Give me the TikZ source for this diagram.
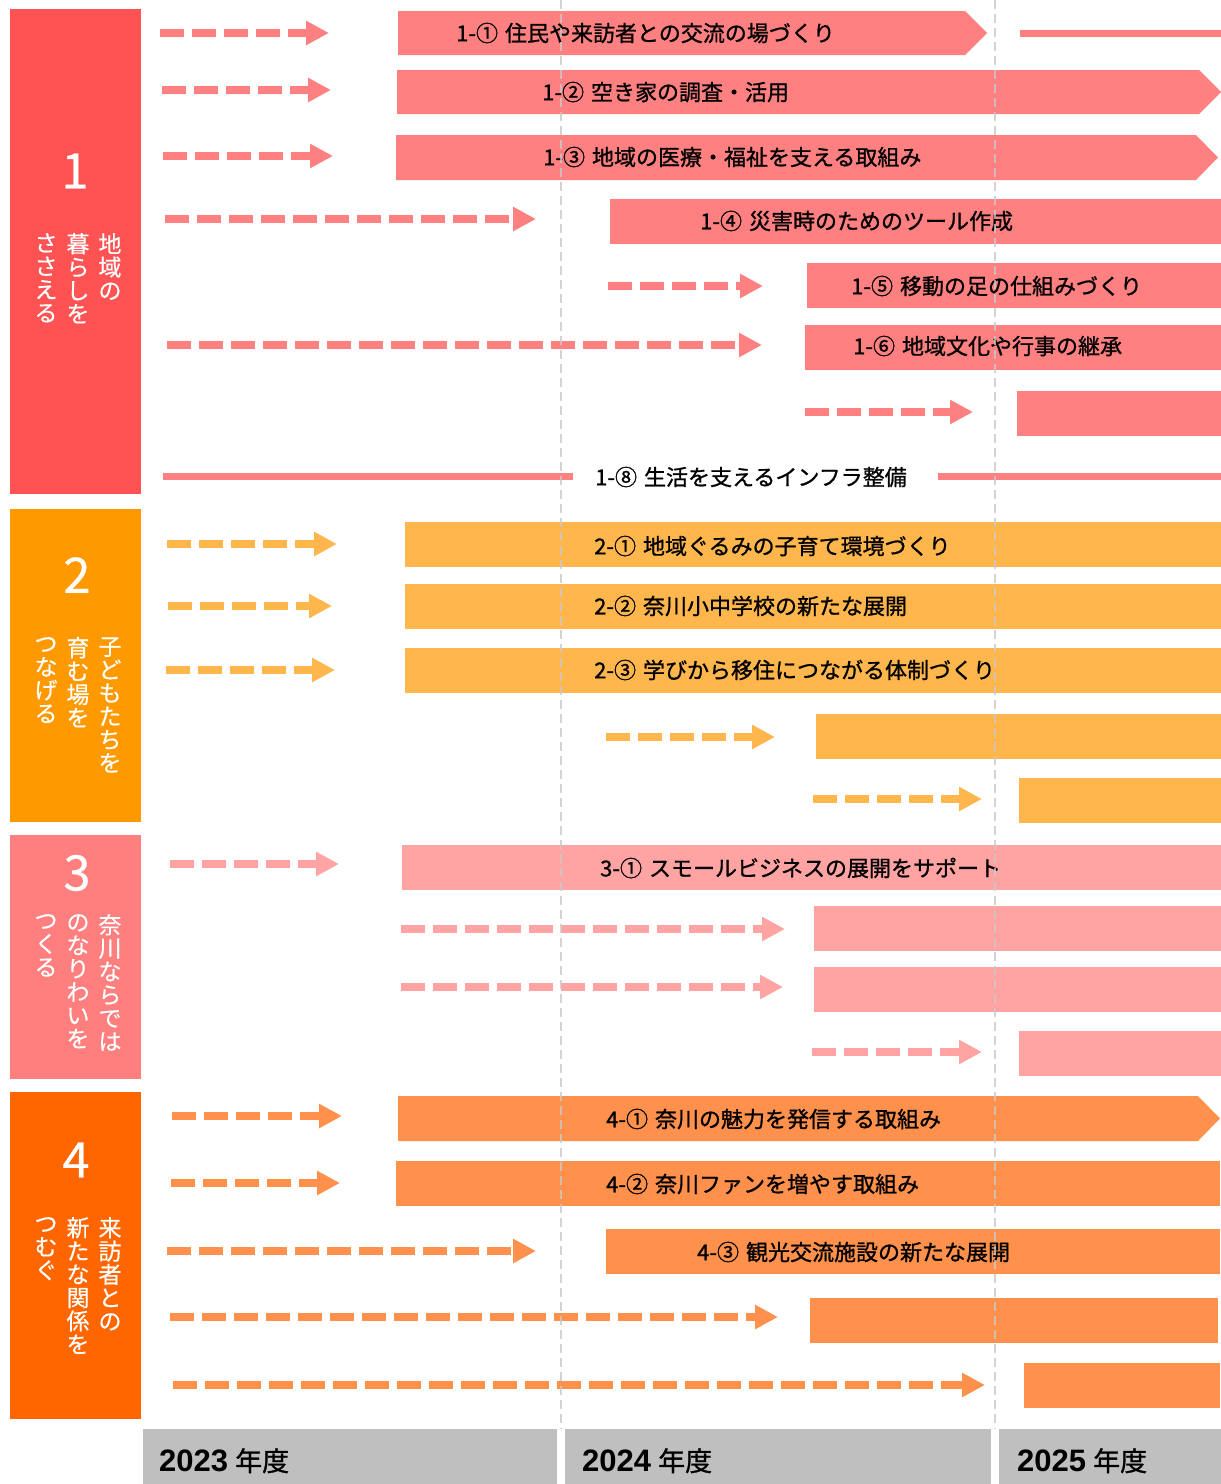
\documentclass[tikz,border=0pt]{standalone}
\usepackage{fontspec}
\setmainfont{Noto Sans CJK JP}
\newfontfamily\jp{Noto Sans CJK JP}
\newfontfamily\jpc[FakeBold=0.4]{Noto Sans CJK JP}
\newfontfamily\jpm[FakeBold=1]{Noto Sans CJK JP}
\newfontfamily\lsans{Liberation Sans}
\usetikzlibrary{arrows.meta}
\definecolor{cA}{HTML}{FF5252}
\definecolor{cAb}{HTML}{FF8080}
\definecolor{cB}{HTML}{FF9900}
\definecolor{cBb}{HTML}{FFB74D}
\definecolor{cC}{HTML}{FF7F7F}
\definecolor{cCb}{HTML}{FFA3A3}
\definecolor{cD}{HTML}{FF6600}
\definecolor{cDb}{HTML}{FF914D}
\definecolor{yr}{HTML}{BFBFBF}
\definecolor{vl}{HTML}{C8C8C8}
\newcommand\darrow[5]{\coordinate (#2s) at (#3,#5); \coordinate (#2e) at (#4,#5); \draw[darr,#1] (#2s) -- (#2e);}
\newcommand\sline[5]{\coordinate (#2s) at (#3,#5); \coordinate (#2e) at (#4,#5); \draw[solidln,#1] (#2s) -- (#2e);}
\newcommand\ptbar[5]{\fill[#1] (#2,#4) -- ({#3-22},#4) -- (#3,{(#4+#5)/2}) -- ({#3-22},#5) -- (#2,#5) -- cycle;}
\begin{document}
\begin{tikzpicture}[x=1pt,y=-1pt,
  darr/.style={line width=7.5pt, dash pattern=on 24pt off 8pt, -{Triangle[length=23pt,width=23pt]}},
  solidln/.style={line width=7pt},
  catbox/.style={anchor=north west, minimum width=131pt, inner sep=0pt, outer sep=0pt},
  catnum/.style={text=white, font=\jpc\fontsize{49}{49}\selectfont, inner sep=0pt},
  catcol/.style={anchor=north, align=center, text=white, inner sep=0pt, font=\jpc\fontsize{23}{23.3}\selectfont},
  bartxt/.style={anchor=west, inner sep=0pt, text=black, font=\jpm\fontsize{22}{22}\selectfont},
  yrbox/.style={anchor=north west, fill=yr, minimum height=55pt, inner sep=0pt, outer sep=0pt},
  yrtxt/.style={anchor=base west, inner sep=0pt, text=black},
  vline/.style={draw=vl, line width=1.5pt, dash pattern=on 9pt off 5pt, opacity=0.8}
]
\useasboundingbox (0,0) rectangle (1221,1484);

% ---------- category boxes ----------
\node[catbox, fill=cA, minimum height=485pt] (g1) at (10,9) {};
\node[catbox, fill=cB, minimum height=313pt] (g2) at (10,509) {};
\node[catbox, fill=cC, minimum height=244pt] (g3) at (10,835) {};
\node[catbox, fill=cD, minimum height=327pt] (g4) at (10,1092) {};

\node[catnum] (n1) at (75,171) {1};
\node[catcol] (g1a) at (110,233) {地\\域\\の};
\node[catcol] (g1b) at (78,233) {暮\\ら\\し\\を};
\node[catcol] (g1c) at (46,233) {さ\\さ\\え\\る};

\node[catnum] (n2) at (77,575) {2};
\node[catcol] (g2a) at (110,637) {子\\ど\\も\\た\\ち\\を};
\node[catcol] (g2b) at (78,637) {育\\む\\場\\を};
\node[catcol] (g2c) at (46,637) {つ\\な\\げ\\る};

\node[catnum] (n3) at (77,873) {3};
\node[catcol] (g3a) at (110,914) {奈\\川\\な\\ら\\で\\は};
\node[catcol] (g3b) at (78,914) {の\\な\\り\\わ\\い\\を};
\node[catcol] (g3c) at (46,914) {つ\\く\\る};

\node[catnum] (n4) at (76,1160) {4};
\node[catcol] (g4a) at (110,1217) {来\\訪\\者\\と\\の};
\node[catcol] (g4b) at (78,1217) {新\\た\\な\\関\\係\\を};
\node[catcol] (g4c) at (46,1217) {つ\\む\\ぐ};

% ---------- group 1 ----------
\ptbar{cAb}{398}{987}{11}{55}
\ptbar{cAb}{397}{1221}{70}{114}
\ptbar{cAb}{396}{1218}{135}{180}
\fill[cAb] (610,199) rectangle (1221,244);
\fill[cAb] (807,263) rectangle (1221,308);
\fill[cAb] (805,325) rectangle (1221,370);
\fill[cAb] (1017,391) rectangle (1221,436);

\darrow{cAb}{a11}{160}{329}{33}
\darrow{cAb}{a12}{162}{331}{90}
\darrow{cAb}{a13}{163}{333}{156}
\darrow{cAb}{a14}{165}{536}{219}
\darrow{cAb}{a15}{608}{763}{286}
\darrow{cAb}{a16}{167}{762}{345}
\darrow{cAb}{a17}{805}{973}{412}
\sline{cAb}{l11}{1020}{1221}{33}
\sline{cAb}{l18a}{163}{573}{476}
\sline{cAb}{l18b}{938}{1221}{476}

\node[bartxt] (t11) at (456,33) {1-①\hspace{7pt}住民や来訪者との交流の場づくり};
\node[bartxt] (t12) at (542,92) {1-②\hspace{7pt}空き家の調査・活用};
\node[bartxt] (t13) at (543,157) {1-③\hspace{7pt}地域の医療・福祉を支える取組み};
\node[bartxt] (t14) at (700,221) {1-④\hspace{7pt}災害時のためのツール作成};
\node[bartxt] (t15) at (851,286) {1-⑤\hspace{7pt}移動の足の仕組みづくり};
\node[bartxt] (t16) at (853,346) {1-⑥\hspace{7pt}地域文化や行事の継承};
\node[bartxt] (t18) at (595,477) {1-⑧\hspace{7pt}生活を支えるインフラ整備};

% ---------- group 2 ----------
\fill[cBb] (405,522) rectangle (1221,567);
\fill[cBb] (405,584) rectangle (1221,629);
\fill[cBb] (405,648) rectangle (1221,693);
\fill[cBb] (816,714) rectangle (1221,759);
\fill[cBb] (1019,778) rectangle (1221,823);
\darrow{cBb}{a21}{167}{337}{544}
\darrow{cBb}{a22}{168}{332}{606}
\darrow{cBb}{a23}{166}{335}{670}
\darrow{cBb}{a24}{606}{775}{737}
\darrow{cBb}{a25}{813}{982}{799}
\node[bartxt] (t21) at (594,546) {2-①\hspace{7pt}地域ぐるみの子育て環境づくり};
\node[bartxt] (t22) at (594,606) {2-②\hspace{7pt}奈川小中学校の新たな展開};
\node[bartxt] (t23) at (594,670) {2-③\hspace{7pt}学びから移住につながる体制づくり};

% ---------- group 3 ----------
\fill[cCb] (402,845) rectangle (1221,890);
\fill[cCb] (814,906) rectangle (1221,951);
\fill[cCb] (814,967) rectangle (1221,1012);
\fill[cCb] (1019,1031) rectangle (1221,1076);
\darrow{cCb}{a31}{170}{339}{864}
\darrow{cCb}{a32}{401}{785}{929}
\darrow{cCb}{a33}{401}{783}{987}
\darrow{cCb}{a34}{812}{982}{1052}
\node[bartxt] (t31) at (600,868) {3-①\hspace{7pt}スモールビジネスの展開をサポート};

% ---------- group 4 ----------
\ptbar{cDb}{398}{1220}{1096}{1141}
\fill[cDb] (396,1161) rectangle (1220,1206);
\fill[cDb] (606,1229) rectangle (1220,1274);
\fill[cDb] (810,1298) rectangle (1218,1343);
\fill[cDb] (1024,1363) rectangle (1220,1408);
\darrow{cDb}{a41}{172}{342}{1116}
\darrow{cDb}{a42}{171}{340}{1183}
\darrow{cDb}{a43}{167}{536}{1251}
\darrow{cDb}{a44}{170}{778}{1317}
\darrow{cDb}{a45}{173}{985}{1385}
\node[bartxt] (t41) at (606,1119) {4-①\hspace{7pt}奈川の魅力を発信する取組み};
\node[bartxt] (t42) at (606,1184) {4-②\hspace{7pt}奈川ファンを増やす取組み};
\node[bartxt] (t43) at (697,1252) {4-③\hspace{7pt}観光交流施設の新たな展開};

% ---------- year grid lines ----------
\coordinate (v1s) at (561,0); \coordinate (v1e) at (561,1429);
\coordinate (v2s) at (995,0); \coordinate (v2e) at (995,1429);
\draw[vline] (v1s) -- (v1e);
\draw[vline] (v2s) -- (v2e);

% ---------- year bars ----------
\node[yrbox, minimum width=414pt] (y23) at (143,1429) {};
\node[yrbox, minimum width=426pt] (y24) at (565,1429) {};
\node[yrbox, minimum width=222pt] (y25) at (999,1429) {};
\node[yrtxt] (y23t) at (159,1471) {{\lsans\bfseries\fontsize{31}{31}\selectfont 2023}\hspace{7pt}{\jpm\fontsize{27}{27}\selectfont 年度}};
\node[yrtxt] (y24t) at (582,1471) {{\lsans\bfseries\fontsize{31}{31}\selectfont 2024}\hspace{7pt}{\jpm\fontsize{27}{27}\selectfont 年度}};
\node[yrtxt] (y25t) at (1017,1471) {{\lsans\bfseries\fontsize{31}{31}\selectfont 2025}\hspace{7pt}{\jpm\fontsize{27}{27}\selectfont 年度}};
\end{tikzpicture}
\end{document}
